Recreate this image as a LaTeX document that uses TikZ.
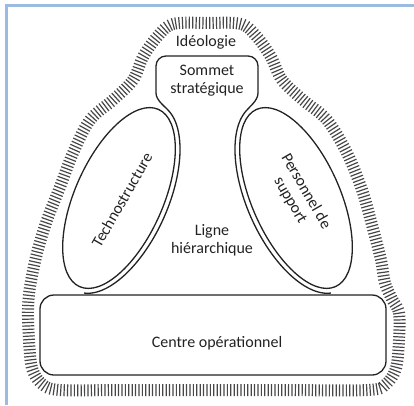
\documentclass[tikz,border=0pt]{standalone}
\usepackage{fontspec}
\setmainfont{Carlito}
\usetikzlibrary{decorations.pathreplacing}
\definecolor{framecol}{RGB}{155,187,224}
\definecolor{ink}{RGB}{34,34,34}
\begin{document}
\begin{tikzpicture}[x=1pt,y=1pt,
  outl/.style={line width=1.3pt, draw=ink},
  hatch/.style={draw=black!72, line width=1.2pt, decorate,
    decoration={ticks, segment length=3.4pt, amplitude=6pt}},
  lbl/.style={font=\fontsize{16}{18}\selectfont, text=ink, align=center, inner sep=0pt}]
\useasboundingbox (0,0) rectangle (414,405);
% screen frame
\draw[line width=2.5pt, framecol] (6.5,0) -- (6.5,399.5) -- (414,399.5);
% ideology hatch
\draw[hatch] plot[smooth cycle, tension=0.55] coordinates {
 (207,382) (173,381) (157,368) (143,348) (133,325) (113,305) (90,285) (73,252)
 (60,218) (47,185) (37,152) (30,118) (28,95) (29,65) (32,37) (42,21) (60,15)
 (120,15) (200,15) (280,15) (368,15) (386,21) (396,37) (399,65) (399,92)
 (392,106) (385,122) (381,145) (372,180) (362,215) (347,252) (327,285)
 (303,305) (282,325) (271,348) (257,368) (241,381)};
% centre operationnel
\draw[outl, rounded corners=14] (40,30) rectangle (386,110);
% technostructure and support ellipses
\draw[outl, rotate around={66:(119,207)}] (119,207) ellipse[x radius=97, y radius=44];
\draw[outl, rotate around={-66:(296,207)}] (296,207) ellipse[x radius=97, y radius=44];
% sommet + ligne hierarchique outline
\draw[outl] plot[domain=-172:-15, samples=60, variable=\t]
   ({119+102*cos(\t)*cos(66)-49*sin(\t)*sin(66)}, {207+102*cos(\t)*sin(66)+49*sin(\t)*cos(66)})
  .. controls (165.9,298.3) and (156,304) .. (156,312) -- (156,339)
  arc[start angle=180, end angle=90, radius=10] -- (248,349)
  arc[start angle=90, end angle=0, radius=10] -- (258,312)
  .. controls (258,304) and (249.1,298.3) .. (244.3,291.9)
  -- plot[domain=-15:-172, samples=60, variable=\t]
   ({296-(102*cos(\t)*cos(66)-49*sin(\t)*sin(66))}, {207+102*cos(\t)*sin(66)+49*sin(\t)*cos(66)});
% labels
\node[lbl] (ideo) at (206,363) {Idéologie};
\node[lbl] (sommet) at (207,324) {Sommet\\stratégique};
\node[lbl] (ligne) at (212,165) {Ligne\\hiérarchique};
\node[lbl, rotate=60] (techno) at (122,205) {Technostructure};
\node[lbl, rotate=-60] (support) at (298,209) {Personnel de\\support};
\node[lbl] (centre) at (217,62) {Centre opérationnel};
\end{tikzpicture}
\end{document}
